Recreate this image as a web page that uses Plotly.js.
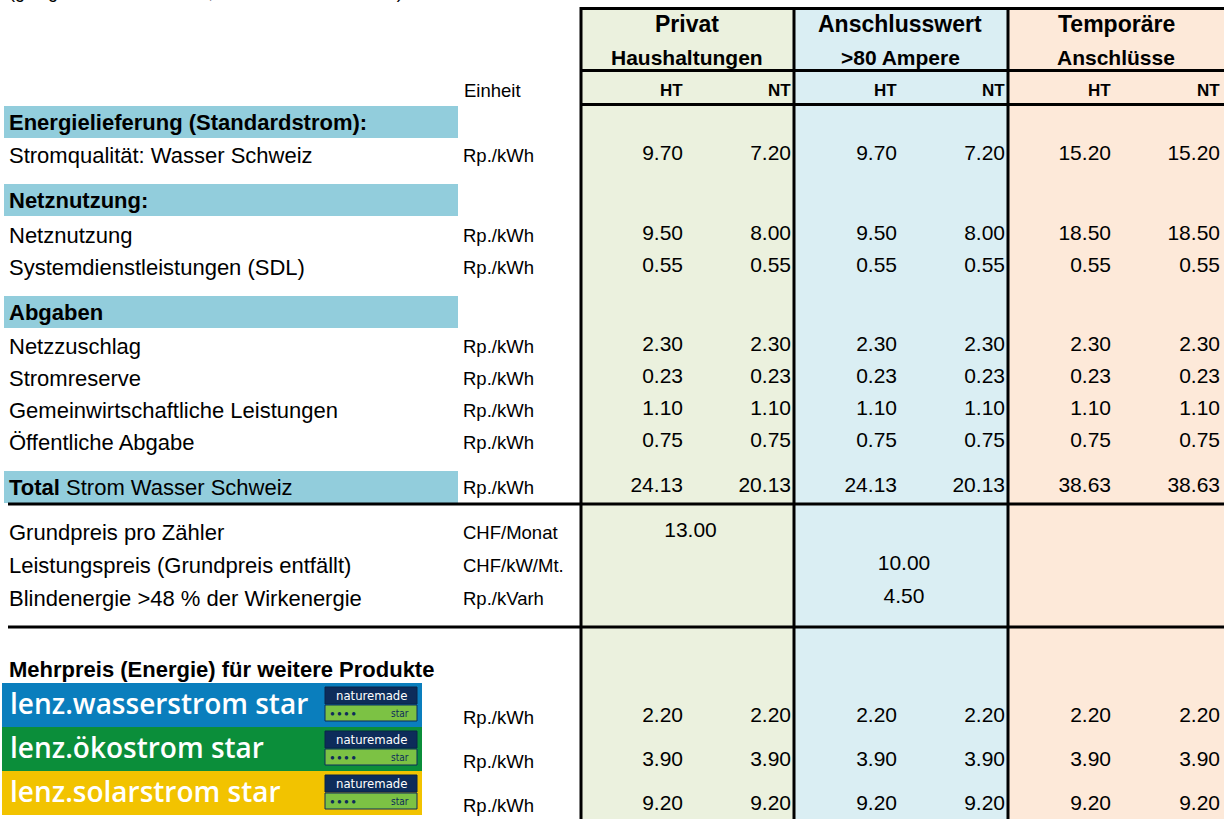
<!DOCTYPE html>
<html>
<head>
<meta charset="utf-8">
<script src="https://cdn.plot.ly/plotly-3.0.1.min.js"></script>
<style>html,body{margin:0;padding:0;background:#fff;}#chart{width:1224px;height:819px;}</style>
</head>
<body>
<div id="chart"></div>
<script>
// ---------------- DATA ----------------
var noteText = "(gültig ab 1. Januar 2025, alle Tarife exkl. MWST)";
var groupTitles = ["Privat", "Anschlusswert", "Temporäre"];
var groupSubtitles = ["Haushaltungen", ">80 Ampere", "Anschlüsse"];
var tariffLabels = ["HT", "NT"];
var unitHeader = "Einheit";

var sectionTitles = ["Energielieferung (Standardstrom):", "Netznutzung:", "Abgaben"];
var rowLabels = ["Stromqualität: Wasser Schweiz", "Netznutzung", "Systemdienstleistungen (SDL)",
                 "Netzzuschlag", "Stromreserve", "Gemeinwirtschaftliche Leistungen", "Öffentliche Abgabe"];
var rowUnits = ["Rp./kWh", "Rp./kWh", "Rp./kWh", "Rp./kWh", "Rp./kWh", "Rp./kWh", "Rp./kWh"];
var privatHT     = [9.70, 9.50, 0.55, 2.30, 0.23, 1.10, 0.75];
var privatNT     = [7.20, 8.00, 0.55, 2.30, 0.23, 1.10, 0.75];
var anschlussHT  = [9.70, 9.50, 0.55, 2.30, 0.23, 1.10, 0.75];
var anschlussNT  = [7.20, 8.00, 0.55, 2.30, 0.23, 1.10, 0.75];
var temporaerHT  = [15.20, 18.50, 0.55, 2.30, 0.23, 1.10, 0.75];
var temporaerNT  = [15.20, 18.50, 0.55, 2.30, 0.23, 1.10, 0.75];

var totalLabelBold = "Total";
var totalLabelRest = " Strom Wasser Schweiz";
var totalUnit = "Rp./kWh";
var totalValues = [24.13, 20.13, 24.13, 20.13, 38.63, 38.63];

var feeLabels = ["Grundpreis pro Zähler", "Leistungspreis (Grundpreis entfällt)", "Blindenergie >48 % der Wirkenergie"];
var feeUnits = ["CHF/Monat", "CHF/kW/Mt.", "Rp./kVarh"];
var feeGroup = [0, 1, 1];           // which column group carries the fee
var feeValues = [13.00, 10.00, 4.50];

var productsTitle = "Mehrpreis (Energie) für weitere Produkte";
var productNames = ["lenz.wasserstrom star", "lenz.ökostrom star", "lenz.solarstrom star"];
var productUnits = ["Rp./kWh", "Rp./kWh", "Rp./kWh"];
var productHT = [2.20, 3.90, 9.20];
var productNT = [2.20, 3.90, 9.20];

// ---------------- LAYOUT CONSTANTS ----------------
var FONT = "Liberation Sans, Arial, sans-serif";
var groupLeft = [581, 794, 1008];
var groupRight = [794, 1008, 1226];
var groupFill = ["#EBF1DE", "#DAEEF3", "#FDE9D9"];
var htRight = [683, 897, 1111];
var ntRight = [791, 1005, 1220];
var bandColor = "#92CDDC";
var productColors = ["#0A7EBD", "#0B8E3A", "#F2C300"];

var sectionY = [122, 200, 312];
var rowY = [155, 235, 267, 346, 378, 410, 442];
var totalY = 487;
var feeY = [532, 565, 598];
var productTitleY = 669;
var productTop = [683, 727, 771];
var productH = 44;
var productValY = [717, 761, 805];

var shapes = [];
var ann = [];

function rect(x0, y0, x1, y1, fill, lw, lc) {
  shapes.push({type: "rect", xref: "x", yref: "y", x0: x0, y0: y0, x1: x1, y1: y1,
    fillcolor: fill, line: {width: lw || 0, color: lc || fill}, layer: "below"});
}
function hline(x0, x1, y, w) {
  shapes.push({type: "line", xref: "x", yref: "y", x0: x0, x1: x1, y0: y, y1: y,
    line: {color: "#000", width: w}, layer: "above"});
}
function vline(x, y0, y1, w) {
  shapes.push({type: "line", xref: "x", yref: "y", x0: x, x1: x, y0: y0, y1: y1,
    line: {color: "#000", width: w}, layer: "above"});
}
function txt(x, y, text, size, opts) {
  opts = opts || {};
  ann.push({xref: "x", yref: "y", x: x, y: y, text: text, showarrow: false,
    xanchor: opts.xa || "left", yanchor: "middle",
    font: {family: opts.family || FONT, size: size, color: opts.color || "#000", weight: opts.weight || "normal"},
    borderpad: 0});
}

// column backgrounds
for (var g = 0; g < 3; g++) {
  rect(groupLeft[g], 8, groupRight[g], 819, groupFill[g]);
}
// section bands
sectionY.forEach(function (y) { rect(4, y - 16, 458, y + 16, bandColor); });
rect(4, totalY - 16, 458, totalY + 16, bandColor);

// grid lines
hline(581, 1224, 8.5, 3);
hline(581, 1224, 70.5, 3);
hline(581, 1224, 104.5, 3);
hline(8, 1224, 504, 3);
hline(8, 1224, 627, 3);
groupLeft.forEach(function (x) { vline(x, 7, 819, 3); });

// top note (cut off at the top edge of the picture, as in the reference)
ann.push({xref: "paper", yref: "paper", x: 8 / 1224, y: 1 + 8 / 819, text: noteText, showarrow: false,
  xanchor: "left", yanchor: "middle", font: {family: FONT, size: 18, color: "#000"}, borderpad: 0});

// headers
for (var g = 0; g < 3; g++) {
  var cx = (groupLeft[g] + groupRight[g] - 2) / 2;
  txt(cx, 24, "<b>" + groupTitles[g] + "</b>", 23, {xa: "center"});
  txt(cx, 57, "<b>" + groupSubtitles[g] + "</b>", 21, {xa: "center"});
  txt(htRight[g] + 1, 90, "<b>" + tariffLabels[0] + "</b>", 17, {xa: "right"});
  txt(ntRight[g] + 1, 90, "<b>" + tariffLabels[1] + "</b>", 17, {xa: "right"});
}
txt(463, 90, unitHeader, 18.5);

// section titles
sectionTitles.forEach(function (s, i) { txt(8, sectionY[i], "<b>" + s + "</b>", 22); });

// rows
rowLabels.forEach(function (s, i) {
  txt(8, rowY[i], s, 22);
  txt(462, rowY[i], rowUnits[i], 18.5);
});
txt(8, totalY, "<b>" + totalLabelBold + "</b>" + totalLabelRest, 22);
txt(462, totalY, totalUnit, 18.5);

feeLabels.forEach(function (s, i) {
  txt(8, feeY[i], s, 22);
  txt(462, feeY[i], feeUnits[i], 18.5);
});

// products
txt(8, productTitleY, "<b>" + productsTitle + "</b>", 22);
productNames.forEach(function (s, i) {
  var t = productTop[i];
  rect(2, t, 422, t + productH, productColors[i]);
  txt(9, t + 20, s, 28, {color: "#fff", family: "Open Sans, sans-serif", weight: 600});
  // naturemade badge
  rect(325, t + 4, 417, t + 21, "#0D2C5A", 1, "#0A2448");
  rect(325, t + 22, 417, t + 38, "#7CC244", 1, "#0D2C5A");
  txt(371, t + 12.5, "naturemade", 13, {xa: "center", color: "#fff", family: "DejaVu Sans Condensed, sans-serif"});
  txt(329, t + 30, "● ● ● ●", 8, {color: "#0D2C5A"});
  txt(410, t + 30, "star", 10, {xa: "right", color: "#0D2C5A", family: "DejaVu Sans Condensed, sans-serif"});
  txt(462, productValY[i], productUnits[i], 18.5);
});

// ---------------- VALUE TRACE ----------------
var vx = [], vy = [], vt = [];
function addVal(x, y, v) { vx.push(x); vy.push(y); vt.push(v.toFixed(2)); }
var colsHT = [privatHT, anschlussHT, temporaerHT];
var colsNT = [privatNT, anschlussNT, temporaerNT];
for (var g = 0; g < 3; g++) {
  for (var i = 0; i < rowY.length; i++) {
    addVal(htRight[g], rowY[i], colsHT[g][i]);
    addVal(ntRight[g], rowY[i], colsNT[g][i]);
  }
  addVal(htRight[g], totalY, totalValues[2 * g]);
  addVal(ntRight[g], totalY, totalValues[2 * g + 1]);
  for (var p = 0; p < productNames.length; p++) {
    addVal(htRight[g], productValY[p], productHT[p]);
    addVal(ntRight[g], productValY[p], productNT[p]);
  }
}
var feeX = [], feeYs = [], feeT = [];
feeValues.forEach(function (v, i) {
  var g = feeGroup[i];
  feeX.push((groupLeft[g] + groupRight[g]) / 2 + 3);
  feeYs.push(feeY[i]);
  feeT.push(v.toFixed(2));
});

var traces = [
  {type: "scatter", mode: "text", x: vx, y: vy, text: vt, textposition: "middle left",
   textfont: {family: FONT, size: 21, color: "#000"}, hoverinfo: "skip", showlegend: false, cliponaxis: false},
  {type: "scatter", mode: "text", x: feeX, y: feeYs, text: feeT, textposition: "middle center",
   textfont: {family: FONT, size: 21, color: "#000"}, hoverinfo: "skip", showlegend: false, cliponaxis: false}
];

var layout = {
  width: 1224, height: 819, autosize: false,
  margin: {l: 0, r: 0, t: 0, b: 0, pad: 0},
  paper_bgcolor: "#fff", plot_bgcolor: "#fff",
  xaxis: {range: [0, 1224], visible: false, fixedrange: true},
  yaxis: {range: [819, 0], visible: false, fixedrange: true},
  shapes: shapes, annotations: ann, showlegend: false
};
Plotly.newPlot("chart", traces, layout, {displayModeBar: false, staticPlot: true});
</script>
</body>
</html>
